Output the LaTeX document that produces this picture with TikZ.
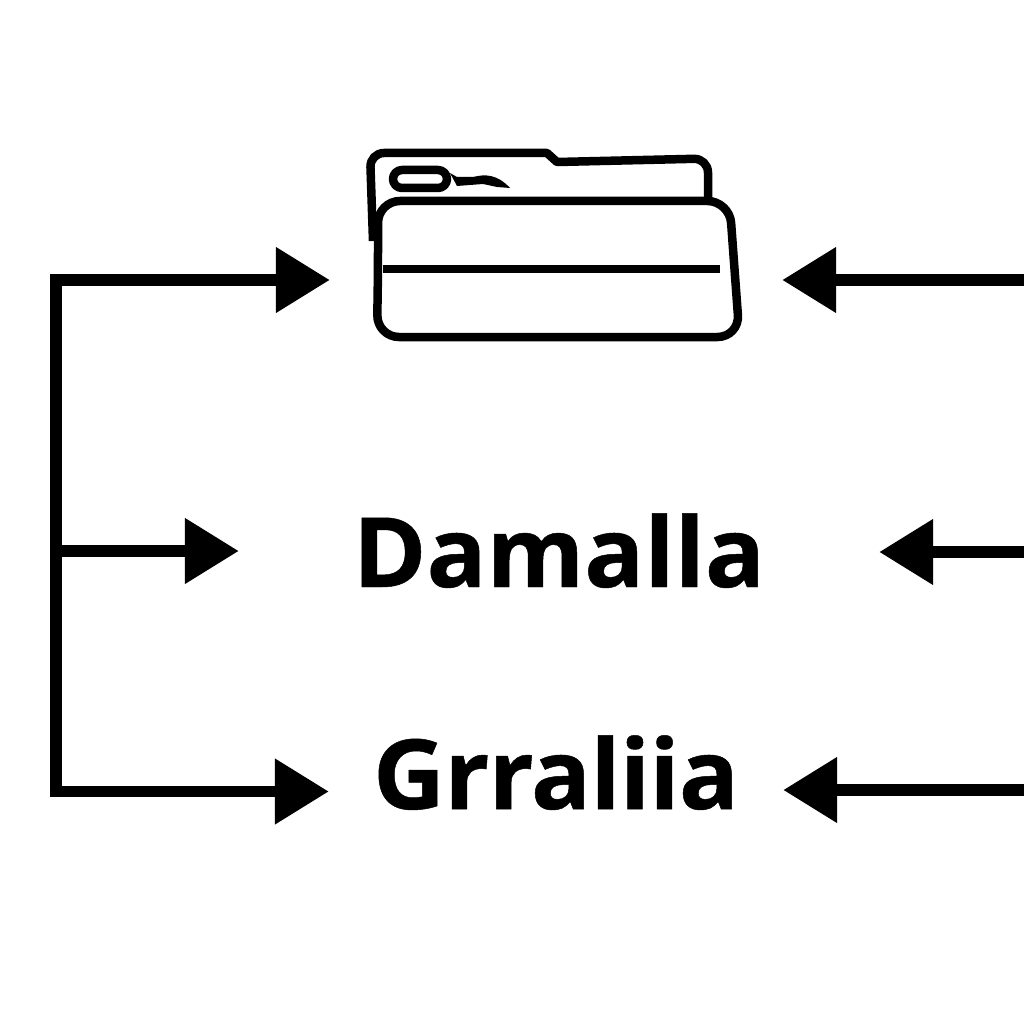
\documentclass[tikz,border=0pt]{standalone}
\usepackage{fontspec}
\setmainfont[BoldFeatures={FakeStretch=1.025,FakeBold=0.5}]{Open Sans}
\usetikzlibrary{arrows.meta}

\begin{document}
\begin{tikzpicture}[x=1pt,y=-1pt,
						bigHead/.tip={Triangle[length=54pt,width=63pt]},
						link/.style={line width=11.5pt},
						outline/.style={line width=8.5pt,line join=round},
						label/.style={anchor=base,inner sep=0pt,font=\fontsize{97}{97}\selectfont\bfseries}]

						\useasboundingbox (0,0) rectangle (1024,1024);

						%%% Folder Icon
						\node at (556,278) [minimum width=452pt,minimum height=190pt,inner sep=0pt] (folder) {};
						\draw [outline,rounded corners=14pt] (373,241) -- (370,153) [sharp corners] -- (547,153) -- (557,162)
							[rounded corners=14pt] -- (708,158.5) -- (708,197);
						\draw [outline,rounded corners=22pt] (378,270) -- (378,201) -- (729.5,201) -- (739.5,337) -- (377,337) -- cycle;
						\draw [line width=8.5pt] (383,269) -- (720,269);
						\draw [outline,rounded corners=9pt] (393,170) rectangle (447,188);
						\fill (450,173) -- (457,177) -- (473,177) .. controls (485,174) and (497,174) .. (510,188)
							-- (497,187) -- (483,184) -- (457,186) -- cycle;

						%%% Labels
						\node at (559,587) [label,minimum width=640pt] (damalla) {Damalla};
						\node at (556,809) [label,minimum width=454pt] (gralia) {\addfontfeature{LetterSpace=-0.8}Grraliia};

						%%% Left Connections
						\coordinate (leftTop) at (56,280);
						\coordinate (leftMid) at (56,551);
						\coordinate (leftBottom) at (56,791.5);
						\draw [link,{bigHead}-{bigHead}] (folder.west |- leftTop) -- (leftTop) -- (leftBottom) -- (gralia.west |- leftBottom);
						\draw [link,-{bigHead}] (leftMid) -- (damalla.west |- leftMid);

						%%% Right Connections
						\coordinate (rightTop) at (1024,280);
						\coordinate (rightMid) at (1024,552);
						\coordinate (rightBottom) at (1024,790);
						\draw [link,-{bigHead}] (rightTop) -- (folder.east |- rightTop);
						\draw [link,-{bigHead}] (rightMid) -- (damalla.east |- rightMid);
						\draw [link,-{bigHead}] (rightBottom) -- (gralia.east |- rightBottom);
					\end{tikzpicture}
\end{document}
